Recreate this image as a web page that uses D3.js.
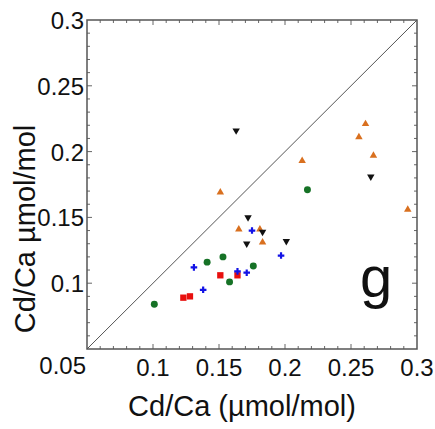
<!DOCTYPE html>
<html>
<head>
<meta charset="utf-8">
<script src="https://cdn.jsdelivr.net/npm/d3@7"></script>
<style>
  body { margin: 0; background: #fff; }
  text { font-family: "Liberation Sans", Arial, sans-serif; fill: #111; }
</style>
</head>
<body>
<div id="chart"></div>
<script>
// ---- data (Cd/Ca, µmol/mol) ----
var greenX = [0.101, 0.141, 0.153, 0.158, 0.176, 0.217];
var greenY = [0.084, 0.116, 0.120, 0.101, 0.113, 0.171];

var redX = [0.123, 0.128, 0.151, 0.164];
var redY = [0.089, 0.090, 0.106, 0.106];

var blueX = [0.131, 0.138, 0.164, 0.171, 0.175, 0.197];
var blueY = [0.112, 0.095, 0.109, 0.108, 0.140, 0.121];

var orangeX = [0.151, 0.165, 0.181, 0.183, 0.213, 0.256, 0.261, 0.267, 0.293];
var orangeY = [0.169, 0.141, 0.141, 0.131, 0.193, 0.211, 0.221, 0.197, 0.156];

var blackX = [0.163, 0.172, 0.171, 0.183, 0.201, 0.265];
var blackY = [0.216, 0.150, 0.130, 0.139, 0.132, 0.181];

var tickValues = [0.1, 0.15, 0.2, 0.25, 0.3];
var tickLabels = ['0.1', '0.15', '0.2', '0.25', '0.3'];
var cornerLabel = '0.05';

var width = 435, height = 429;
var margin = {left: 87, right: 18, top: 20, bottom: 80};

var svg = d3.select('#chart').append('svg')
  .attr('width', width)
  .attr('height', height);

var x = d3.scaleLinear().domain([0.05, 0.3]).range([margin.left, width - margin.right]);
var y = d3.scaleLinear().domain([0.05, 0.3]).range([height - margin.bottom, margin.top]);

var minor = d3.range(0.06, 0.3, 0.01).filter(function(v){
  return Math.abs(Math.round(v * 20) - v * 20) > 1e-6;
});

// 1:1 line
svg.append('line')
  .attr('x1', x(0.05)).attr('y1', y(0.05))
  .attr('x2', x(0.3)).attr('y2', y(0.3))
  .style('stroke', '#555')
  .style('stroke-width', 1);

// ticks on all four sides, pointing in
function ticks(vals, len){
  var g = svg.append('g').style('stroke', '#666').style('stroke-width', 1);
  vals.forEach(function(v){
    g.append('line').attr('x1', x(v)).attr('x2', x(v)).attr('y1', y(0.05)).attr('y2', y(0.05) - len);
    g.append('line').attr('x1', x(v)).attr('x2', x(v)).attr('y1', y(0.3)).attr('y2', y(0.3) + len);
    g.append('line').attr('y1', y(v)).attr('y2', y(v)).attr('x1', x(0.05)).attr('x2', x(0.05) + len);
    g.append('line').attr('y1', y(v)).attr('y2', y(v)).attr('x1', x(0.3)).attr('x2', x(0.3) - len);
  });
}
ticks(minor, 3);
ticks(tickValues.slice(0, 4), 5);

// frame
svg.append('rect')
  .attr('x', x(0.05)).attr('y', y(0.3))
  .attr('width', x(0.3) - x(0.05))
  .attr('height', y(0.05) - y(0.3))
  .style('fill', 'none')
  .style('stroke', '#555')
  .style('stroke-width', 1.5);

// tick labels
svg.selectAll('.xlab').data(tickValues).enter().append('text')
  .attr('class', 'xlab')
  .attr('x', function(d){ return x(d); })
  .attr('y', y(0.05) + 27)
  .attr('text-anchor', 'middle')
  .style('font-size', '24px')
  .text(function(d, i){ return tickLabels[i]; });

svg.selectAll('.ylab').data(tickValues).enter().append('text')
  .attr('class', 'ylab')
  .attr('x', x(0.05) - 3)
  .attr('y', function(d){ return y(d) + 9; })
  .attr('text-anchor', 'end')
  .style('font-size', '24px')
  .text(function(d, i){ return tickLabels[i]; });

svg.append('text')
  .attr('x', x(0.05) - 1)
  .attr('y', y(0.05) + 25)
  .attr('text-anchor', 'end')
  .style('font-size', '24px')
  .text(cornerLabel);

// axis titles
svg.append('text')
  .attr('x', 242)
  .attr('y', 416)
  .attr('text-anchor', 'middle')
  .style('font-size', '29px')
  .text('Cd/Ca (µmol/mol)');

svg.append('text')
  .attr('transform', 'translate(35,229) rotate(-90)')
  .attr('text-anchor', 'middle')
  .style('font-size', '29px')
  .text('Cd/Ca µmol/mol');

// panel letter
svg.append('text')
  .attr('x', 360)
  .attr('y', 297)
  .style('font-size', '58px')
  .text('g');

// points
function series(xs, ys, type, size, color){
  var sym = d3.symbol().type(type).size(size);
  svg.append('g').selectAll('path')
    .data(xs.map(function(v, i){ return [v, ys[i]]; }))
    .enter().append('path')
      .attr('transform', function(d){ return 'translate(' + x(d[0]) + ',' + y(d[1]) + ')'; })
      .attr('d', sym)
      .style('fill', color);
}

var triDown = {
  draw: function(ctx, size){
    var s = Math.sqrt(size / (Math.sqrt(3) / 4)), h = s * Math.sqrt(3) / 2;
    ctx.moveTo(-s / 2, -h / 3);
    ctx.lineTo(s / 2, -h / 3);
    ctx.lineTo(0, 2 * h / 3);
    ctx.closePath();
  }
};

series(greenX, greenY, d3.symbolCircle, 38, '#167226');
series(redX, redY, d3.symbolSquare, 40, '#e8100e');
series(blueX, blueY, d3.symbolCross, 24, '#1212e6');
series(orangeX, orangeY, d3.symbolTriangle, 24, '#d9701f');
series(blackX, blackY, triDown, 24, '#111');
</script>
</body>
</html>
